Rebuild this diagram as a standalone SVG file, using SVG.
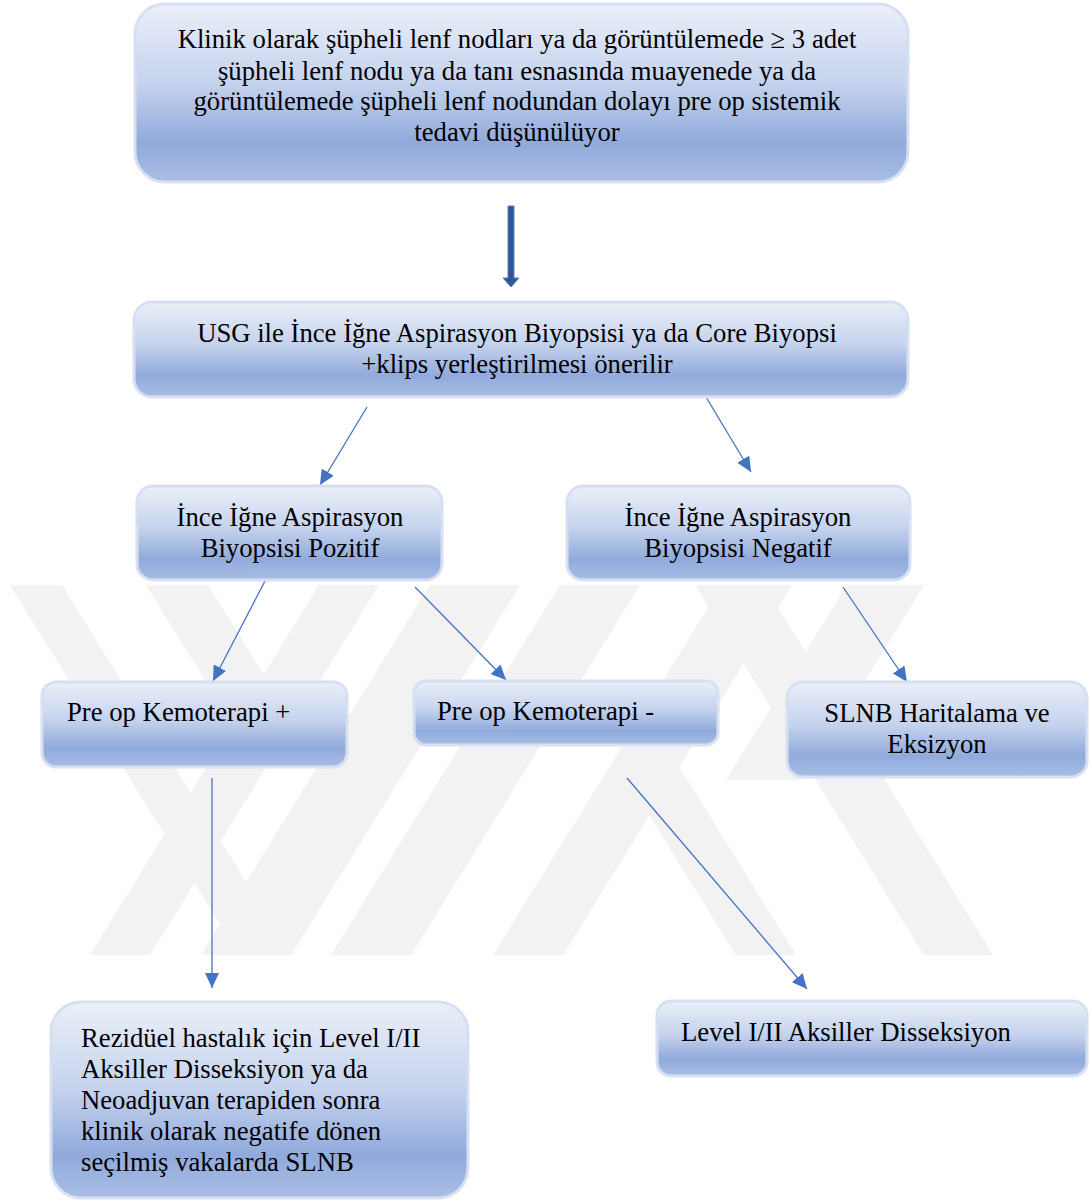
<svg xmlns="http://www.w3.org/2000/svg" width="1089" height="1200" viewBox="0 0 1089 1200">
<defs>
<linearGradient id="g" x1="0" y1="0" x2="0" y2="1">
<stop offset="0" stop-color="#ebf0f9"/>
<stop offset="0.45" stop-color="#c4d2ed"/>
<stop offset="0.78" stop-color="#91aadb"/>
<stop offset="1" stop-color="#a9bee5"/>
</linearGradient>
<marker id="ah" markerUnits="userSpaceOnUse" markerWidth="15" markerHeight="14" refX="15" refY="7" orient="auto">
<path d="M0,0 L15,7 L0,14 z" fill="#4472c4"/>
</marker>
<clipPath id="wm"><rect x="0" y="585" width="1089" height="370"/></clipPath>
</defs>
<style>
.box{fill:url(#g);stroke:#d7e0f2;stroke-width:3}
.t{font-family:"Liberation Serif","Times New Roman",serif;font-size:26.7px;fill:#000}
.c{text-anchor:middle}
.con{stroke:#4472c4;stroke-width:1.3;fill:none;marker-end:url(#ah)}
.wmk{fill:#f2f2f2}
</style>
<rect width="1089" height="1200" fill="#fff"/>
<g id="watermark" clip-path="url(#wm)" class="wmk">
<polygon points="10,585 62,585 290,953 238,953"/>
<polygon points="146,585 208,585 300,733 238,733"/>
<polygon points="319,585 379,585 150,955 90,955"/>
<polygon points="430,585 520,585 291,955 201,955"/>
<polygon points="560,585 640,585 411,955 331,955"/>
<polygon points="722,585 792,585 563,955 493,955"/>
<polygon points="847,585 924,585 803,780 726,780"/>
<polygon points="695,585 764,585 993,955 924,955"/>
<polygon points="615,760 675,760 796,955 736,955"/>
</g>
<g id="connectors">
<path d="M508,206 L514,206 L514,278 L519,278 L511,287 L503,278 L508,278 Z" fill="#2f5597" stroke="#5a7fc6" stroke-width="1"/>
<line class="con" x1="367" y1="407" x2="320" y2="485"/>
<line class="con" x1="706" y1="397" x2="751" y2="472"/>
<line class="con" x1="265" y1="581" x2="213" y2="681"/>
<line class="con" x1="415" y1="587" x2="506" y2="680"/>
<line class="con" x1="843" y1="587" x2="907" y2="682"/>
<line class="con" x1="212" y1="778" x2="212" y2="988"/>
<line class="con" x1="627" y1="778" x2="807" y2="989"/>
</g>
<g id="n1">
<rect class="box" x="135" y="4" width="773" height="178" rx="30"/>
<text class="t c" x="517" y="48">Klinik olarak şüpheli lenf nodları ya da görüntülemede ≥ 3 adet</text>
<text class="t c" x="517" y="80">şüpheli lenf nodu ya da tanı esnasında muayenede ya da</text>
<text class="t c" x="517" y="110">görüntülemede şüpheli lenf nodundan dolayı pre op sistemik</text>
<text class="t c" x="517" y="141">tedavi düşünülüyor</text>
</g>
<g id="n2">
<rect class="box" x="134" y="302" width="774" height="95" rx="18"/>
<text class="t c" x="517" y="342">USG ile İnce İğne Aspirasyon Biyopsisi ya da Core Biyopsi</text>
<text class="t c" x="517" y="373">+klips yerleştirilmesi önerilir</text>
</g>
<g id="n3">
<rect class="box" x="137" y="486" width="305" height="94" rx="16"/>
<text class="t c" x="290" y="526">İnce İğne Aspirasyon</text>
<text class="t c" x="290" y="557">Biyopsisi Pozitif</text>
</g>
<g id="n4">
<rect class="box" x="567" y="486" width="343" height="94" rx="16"/>
<text class="t c" x="738" y="526">İnce İğne Aspirasyon</text>
<text class="t c" x="738" y="557">Biyopsisi Negatif</text>
</g>
<g id="n5">
<rect class="box" x="42" y="682" width="305" height="85" rx="14"/>
<text class="t" x="67" y="721">Pre op Kemoterapi +</text>
</g>
<g id="n6">
<rect class="box" x="414" y="681" width="304" height="64" rx="12"/>
<text class="t" x="437" y="720">Pre op Kemoterapi -</text>
</g>
<g id="n7">
<rect class="box" x="787" y="682" width="300" height="95" rx="16"/>
<text class="t c" x="937" y="722">SLNB Haritalama ve</text>
<text class="t c" x="937" y="753">Eksizyon</text>
</g>
<g id="n8">
<rect class="box" x="51" y="1002" width="417" height="196" rx="30"/>
<text class="t" x="81" y="1047">Rezidüel hastalık için Level I/II</text>
<text class="t" x="81" y="1078">Aksiller Disseksiyon ya da</text>
<text class="t" x="81" y="1109">Neoadjuvan terapiden sonra</text>
<text class="t" x="81" y="1140">klinik olarak negatife dönen</text>
<text class="t" x="81" y="1171">seçilmiş vakalarda SLNB</text>
</g>
<g id="n9">
<rect class="box" x="657" y="1001" width="430" height="75" rx="14"/>
<text class="t" x="681" y="1041">Level I/II Aksiller Disseksiyon</text>
</g>
</svg>
